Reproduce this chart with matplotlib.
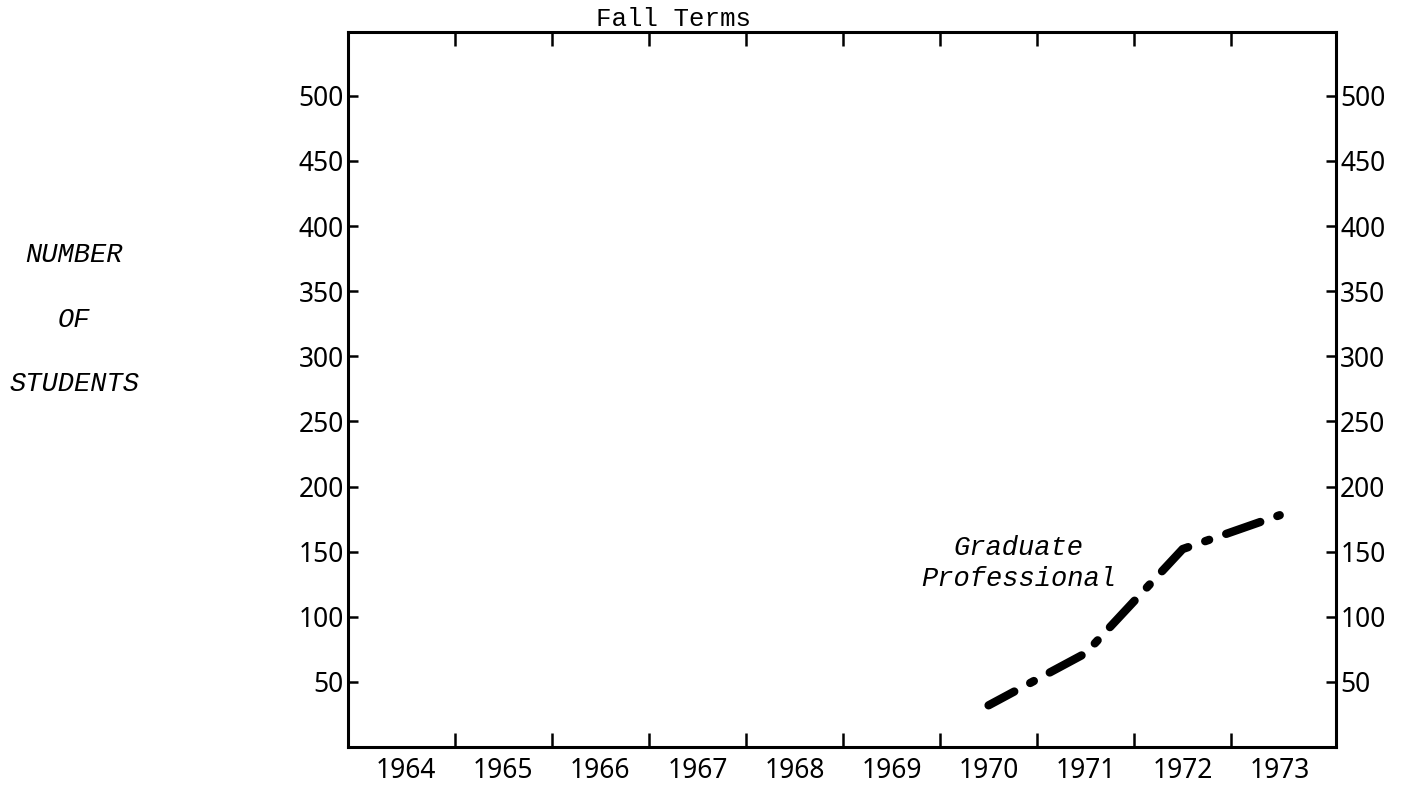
import matplotlib
matplotlib.use('Agg')
import matplotlib.pyplot as plt

# fall terms shown on the x axis
years = [1964, 1965, 1966, 1967, 1968, 1969, 1970, 1971, 1972, 1973]
y_ticks = [50, 100, 150, 200, 250, 300, 350, 400, 450, 500]

# graduate professional enrollment
grad_years = [1970, 1971, 1972, 1973]
grad_students = [32, 72, 152, 178]

plt.rcParams['lines.scale_dashes'] = False

mono = 'Liberation Mono'
sans = 'Noto Sans'

fig = plt.figure(figsize=(14.05, 7.85), dpi=100)
ax = fig.add_axes([0.2477, 0.0484, 0.7032, 0.9108])

# dash-dot, offset so the line ends on a short dash like the original
ax.plot(grad_years, grad_students, color='black', linewidth=6,
        linestyle=(5, (26, 13, 3, 13)), dash_capstyle='round',
        solid_capstyle='round')

ax.set_xlim(1963.40, 1973.58)
ax.set_ylim(0, 549)

# year boundaries get the tick marks, year centres get the labels
ax.set_xticks([y + 0.5 for y in years[:-1]])
ax.set_xticklabels([])
ax.set_xticks(years, minor=True)
ax.set_xticklabels([str(y) for y in years], minor=True, fontfamily=sans, fontsize=19)
ax.tick_params(axis='x', which='major', direction='in', length=10, width=1.8,
               top=True, bottom=True)
ax.tick_params(axis='x', which='minor', length=0, pad=7)

ax.set_yticks(y_ticks)
ax.set_yticklabels([str(v) for v in y_ticks], fontfamily=sans, fontsize=19)
ax.tick_params(axis='y', direction='in', length=7.5, width=1.8, pad=3,
               left=True, right=True, labelleft=True, labelright=True)

for s in ax.spines.values():
    s.set_linewidth(2.2)

ax.text(1970.31, 141, 'Graduate\nProfessional', ha='center', va='center',
        fontfamily=mono, fontstyle='italic', fontsize=19.5, linespacing=1.25)

fig.text(674 / 1405, 1 - 26 / 785, 'Fall Terms', ha='center', va='baseline',
         fontfamily=mono, fontsize=18.5)

for label, ypix in [('NUMBER', 255), ('OF', 320), ('STUDENTS', 384)]:
    fig.text(74 / 1405, 1 - ypix / 785, label, ha='center', va='center',
             fontfamily=mono, fontstyle='italic', fontsize=19.5)

fig.savefig('out.png', dpi=100)
